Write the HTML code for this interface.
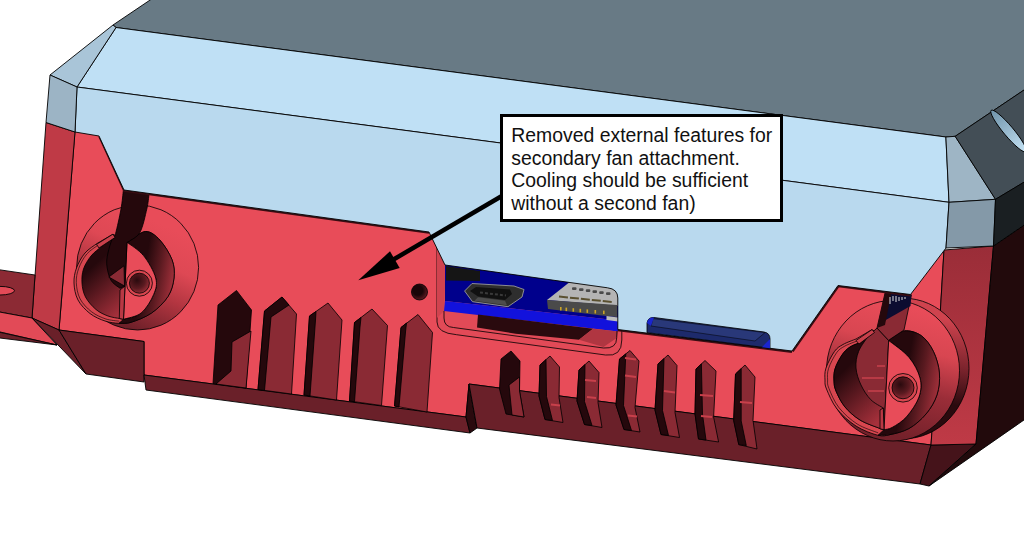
<!DOCTYPE html>
<html><head><meta charset="utf-8"><title>Annotation</title>
<style>
html,body{margin:0;padding:0;background:#fff;}
body{width:1024px;height:539px;overflow:hidden;position:relative;font-family:"Liberation Sans",sans-serif;}
svg{position:absolute;left:0;top:0;display:block;}
#note{position:absolute;left:500px;top:113.7px;width:277px;height:102.3px;border:3px solid #000;background:#fff;box-sizing:content-box;}
#note p{margin:0;position:absolute;left:8.3px;top:7.4px;font-size:19.4px;line-height:22.7px;color:#111;white-space:nowrap;}
</style></head><body>
<svg width="1024" height="539" viewBox="0 0 1024 539">
<defs>
<linearGradient id="gRF" x1="0" y1="0" x2="0" y2="1"><stop offset="0" stop-color="#9a2d38"/><stop offset="1" stop-color="#bf3a46"/></linearGradient>
<linearGradient id="gEll" x1="0" y1="0" x2="1" y2="0"><stop offset="0" stop-color="#6f93aa"/><stop offset="1" stop-color="#c4e2f4"/></linearGradient>
<linearGradient id="gBL" gradientUnits="userSpaceOnUse" x1="185" y1="235" x2="140" y2="332"><stop offset="0" stop-color="#e84c59"/><stop offset="0.33" stop-color="#de4854"/><stop offset="0.62" stop-color="#b23540"/><stop offset="1" stop-color="#6e2029"/></linearGradient>
<linearGradient id="gML" gradientUnits="userSpaceOnUse" x1="100" y1="230" x2="150" y2="290"><stop offset="0.25" stop-color="#e84c59" stop-opacity="1"/><stop offset="0.85" stop-color="#e84c59" stop-opacity="0"/></linearGradient>
<linearGradient id="gBR" gradientUnits="userSpaceOnUse" x1="950" y1="318" x2="918" y2="442"><stop offset="0" stop-color="#e84c59"/><stop offset="0.3" stop-color="#d84651"/><stop offset="0.62" stop-color="#9a2d38"/><stop offset="1" stop-color="#74212a"/></linearGradient>
<linearGradient id="gMR" gradientUnits="userSpaceOnUse" x1="852" y1="330" x2="910" y2="398"><stop offset="0.25" stop-color="#e84c59" stop-opacity="1"/><stop offset="0.85" stop-color="#e84c59" stop-opacity="0"/></linearGradient>
<linearGradient id="gSide" gradientUnits="userSpaceOnUse" x1="955" y1="320" x2="940" y2="440"><stop offset="0" stop-color="#cf434e"/><stop offset="0.4" stop-color="#7a232c"/><stop offset="0.7" stop-color="#2a0a0e"/></linearGradient>
<linearGradient id="gIn" x1="0.2" y1="0" x2="0.7" y2="1"><stop offset="0.3" stop-color="#25080c"/><stop offset="1" stop-color="#a5303b"/></linearGradient>
<linearGradient id="gBand" x1="0" y1="0.3" x2="1" y2="0.6"><stop offset="0.45" stop-color="#25080c"/><stop offset="0.7" stop-color="#5a1a20"/><stop offset="1" stop-color="#a8323d"/></linearGradient>
<radialGradient id="gHole" cx="0.4" cy="0.4" r="0.75"><stop offset="0.4" stop-color="#1a0508"/><stop offset="1" stop-color="#7a232c"/></radialGradient>
<radialGradient id="gSm" cx="0.38" cy="0.35" r="0.75"><stop offset="0" stop-color="#2a0a0e"/><stop offset="0.55" stop-color="#5a1a20"/><stop offset="1" stop-color="#a8323d"/></radialGradient>
</defs>
<g id="base" stroke="#000" stroke-width="0.9" stroke-linejoin="round">
<polygon points="75,131 64,270 59,330 144,341.5 144,375 466,417 469,384 931,445 940,317 944,250 944,120 75,120" fill="#e84c59" />
<polygon points="46,122.5 75,132 59,330 32,318" fill="#bf3a46" />
<polygon points="-6,269 35,275 32,318 -6,311" fill="#8c2a34" />
<ellipse cx="0" cy="290.7" rx="14.5" ry="4.3" fill="#e24a57"/>
<polygon points="-6,311 32,318 57,345 -6,330.6" fill="#e24a57" />
<polygon points="-6,331 57,345 -6,337.3" fill="#6b2029" />
<polygon points="32,318 59,330 86,374" fill="#6a2029" />
<polygon points="59,330 144,341.5 144,382 86,374" fill="#6a2029" />
<polygon points="144,375 466,417 470,433 146,390" fill="#6a2029" />
<polygon points="469,384 466,417 470,433 477,428" fill="#2a0a0e" />
<polygon points="469,384 931,445 920,484 477,428" fill="#6a2029" />
<polygon points="931,445 976,444 929,486 920,484" fill="#45131a" />
<polygon points="944,250 993.5,246 976,444 931,445 940,317" fill="url(#gRF)" />
<polygon points="993.5,246 1030,221 1030,415.8 929,486 976,444" fill="#220a0c" />
</g>
<g id="slots" stroke="#000" stroke-width="0.8" stroke-linejoin="round">
<polygon points="218,305 236.5,290.5 251.5,310 246,388 213,383.5" fill="#25080c" />
<polygon points="232,342 251,331 246,388 216,384 231,371" fill="#8a2a34" />
<polygon points="264.5,311 282,297 296.5,314 291.5,394 258,389.5" fill="#8a2a34" />
<polygon points="264.5,311 282,297 289,305 271,317 264.5,390.5 258,389.5" fill="#25080c" />
<polygon points="309.5,316 328,303 342,320 336.5,400 304,395" fill="#8a2a34" />
<polygon points="309.5,316 316,311.5 315.5,320 310,396 304,395" fill="#25080c" />
<polygon points="354.5,322.5 372,309 387.5,325.5 381.5,405.5 349.5,401" fill="#8a2a34" />
<polygon points="354.5,322.5 361,317.5 360,327 354.5,401.7 349.5,401" fill="#25080c" />
<polygon points="401,327.5 418,314.5 432.5,332.5 427,412 394.5,406" fill="#8a2a34" />
<polygon points="401,327.5 406.5,323 405.5,332 399,407 394.5,406" fill="#25080c" />
<polygon points="501,359 511,351 520,361 519.5,391 524,417 506,414 499.5,389" fill="#25080c" />
<polygon points="509,385 519.5,377 519.5,391 524,417 512,415" fill="#8a2a34" />
<polygon points="540,365 550,356 559.5,367 559,397.5 563,422.5 545,419.5 539,396" fill="#8a2a34" />
<polygon points="540,365 546,359.6 546.5,396.5 552.5,420.5 545,419.5 539,396" fill="#25080c" />
<polygon points="579,370 589,361 599,372.5 598,402.5 602,427.5 584.5,424.5 577,401" fill="#8a2a34" />
<polygon points="579,370 585,364.6 584.5,401.5 592,425.5 584.5,424.5 577,401" fill="#25080c" />
<polygon points="619.5,359 630,350.5 639,361 635,407.5 640,432 624,429.5 616,405" fill="#8a2a34" />
<polygon points="619.5,359 625.8,353.9 623.5,405.5 631.5,430.5 624,429.5 616,405" fill="#25080c" />
<polygon points="658,364 668,355 677,365.5 675,412.5 679.5,437.5 661,434.5 655,410" fill="#8a2a34" />
<polygon points="658,364 664,358.6 662.5,410.5 668.5,435.5 661,434.5 655,410" fill="#25080c" />
<polygon points="696,369 705,360.5 716,371 713.6,417 718.6,442 698.5,439 695,413.7" fill="#8a2a34" />
<polygon points="696,369 701.4,363.9 702.5,414.2 706,440 698.5,439 695,413.7" fill="#25080c" />
<polygon points="735.5,374 745,365 755,377 753,420.4 757,449 738.8,444.6 733.7,420.4" fill="#8a2a34" />
<polygon points="735.5,374 741.2,368.6 741.2,420.9 746.3,445.6 738.8,444.6 733.7,420.4" fill="#25080c" />
<g stroke="#c8404b" stroke-width="2.2" fill="none"><path d="M585,380L596,381M587,397L596,398M625,358L636,359.5M625,375.5L636,377M628,415.5L637,416.5M664,391L675,392.5M551,404.5L560,405.5M700,395L713,396M701,416L712,417M740,402L752,403"/></g>
<circle cx="419.5" cy="292" r="8" fill="url(#gHole)"/>
</g>
<g id="mountL" stroke="#000" stroke-width="0.8" stroke-linejoin="round">
<ellipse cx="137.6" cy="267.5" rx="61" ry="62.5" fill="url(#gBL)"/>
<path d="M97,243.5 C95.0,245.1 88.4,248.9 85.0,253.0 C81.6,257.1 78.3,263.0 76.5,268.0 C74.7,273.0 73.8,277.7 74.0,283.0 C74.2,288.3 75.3,294.9 78.0,300.0 C80.7,305.1 85.5,310.0 90.0,313.5 C94.5,317.0 100.2,319.4 105.0,321.0 C109.8,322.6 114.7,323.1 119.0,323.3 C123.3,323.5 125.6,324.0 131.0,322.3 C136.4,320.6 145.4,317.3 151.6,313.0 C157.8,308.7 164.3,302.3 168.0,296.5 C171.7,290.7 173.3,284.1 174.0,278.0 C174.7,271.9 174.4,266.0 172.0,259.7 C169.6,253.4 164.2,244.7 159.8,240.0 C155.4,235.3 150.6,231.3 145.5,231.5 C140.4,231.7 131.8,239.7 129.0,241.3 L127,242.3 L113,234.2 Z" fill="#d8464f"/>
<path d="M98.26,244.963 C96.4,246.5 90.1,250.1 86.8,254.0 C83.5,257.9 80.4,263.6 78.7,268.4 C76.9,273.1 76.1,277.6 76.3,282.7 C76.5,287.8 77.6,294.1 80.1,298.9 C82.7,303.8 87.3,308.5 91.6,311.8 C95.9,315.2 101.3,317.4 105.9,319.0 C110.5,320.5 117.0,320.8 119.3,321.2 " fill="none" stroke-width="0.6"/>
<path d="M101,247 C99.3,248.5 93.9,252.3 91.0,256.0 C88.1,259.7 85.0,264.5 83.5,269.0 C82.0,273.5 81.7,278.3 82.0,283.0 C82.3,287.7 83.2,292.6 85.5,297.0 C87.8,301.4 92.2,306.3 96.0,309.5 C99.8,312.7 104.1,314.5 108.0,316.0 C111.9,317.5 117.6,318.1 119.5,318.5 L123.5,319.3 L127,242.3 L113,237 Z" fill="url(#gIn)"/>
<path d="M119,323.3 C121.0,323.1 125.6,324.0 131.0,322.3 C136.4,320.6 145.4,317.3 151.6,313.0 C157.8,308.7 164.3,302.3 168.0,296.5 C171.7,290.7 173.3,284.1 174.0,278.0 C174.7,271.9 174.4,266.0 172.0,259.7 C169.6,253.4 164.2,244.7 159.8,240.0 C155.4,235.3 150.6,231.3 145.5,231.5 C140.4,231.7 131.8,239.7 129.0,241.3 L127,242.3 C129.8,244.5 138.7,249.7 143.5,255.6 C148.3,261.6 154.0,271.5 155.7,278.0 C157.4,284.5 156.1,288.6 153.7,294.4 C151.3,300.2 146.4,308.6 141.4,312.8 C136.4,317.0 126.5,318.2 123.5,319.3 L119,323.3 Z" fill="url(#gBand)"/>
<path d="M127,242.3 C129.8,244.5 138.7,249.7 143.5,255.6 C148.3,261.6 154.0,271.5 155.7,278.0 C157.4,284.5 156.1,288.6 153.7,294.4 C151.3,300.2 146.4,308.6 141.4,312.8 C136.4,317.0 126.5,318.2 123.5,319.3 Z" fill="#e84c59"/>
<polygon points="120,290 125,286 123.5,319.3 119.3,318.5" fill="#b93844" />
<circle cx="139.4" cy="283.2" r="13" fill="#d8464f"/>
<circle cx="139.4" cy="283.2" r="10" fill="url(#gSm)"/>
<path d="M149,194.5 C148.6,196.9 148.3,202.7 146.8,209.0 C145.3,215.3 143.0,226.9 140.0,232.3 C137.0,237.7 130.8,239.8 129.0,241.3 L127,242.3 L125,286 L120,288.3 C118.5,286.9 113.0,284.1 110.8,280.0 C108.6,275.9 107.0,268.9 106.7,263.8 C106.4,258.7 107.8,254.0 108.8,249.5 C109.8,245.0 111.9,239.7 113.0,237.0 C114.1,234.3 114.3,238.2 115.6,233.5 C116.9,228.8 119.7,216.2 121.0,209.0 C122.3,201.8 123.0,193.2 123.4,190.0 Z" fill="#25080c"/>
<polygon points="108.8,277 124,265.8 124.5,286" fill="#8a2a34" />
<polygon points="96.5,244.4 112.9,234.2 115,237.5 99,248" fill="#c8404b" />
</g>
<g id="mountR" stroke="#000" stroke-width="0.8" stroke-linejoin="round">
<ellipse cx="903.5" cy="368.5" rx="65.5" ry="70.3" fill="url(#gSide)"/>
<ellipse cx="893" cy="370.7" rx="66.5" ry="70.3" fill="url(#gBR)"/>
<path d="M856,339 C853.8,339.9 846.6,342.4 843.0,344.5 C839.4,346.6 837.3,347.5 834.5,351.4 C831.7,355.3 827.6,363.2 826.0,368.0 C824.4,372.8 824.9,376.5 825.0,380.0 C825.1,383.5 824.5,384.2 826.5,389.0 C828.5,393.8 832.1,402.8 837.0,409.0 C841.9,415.2 849.2,421.6 856.0,426.0 C862.8,430.4 872.3,433.9 878.0,435.3 C883.7,436.7 884.8,435.7 890.0,434.6 C895.2,433.5 903.0,431.9 909.0,428.5 C915.0,425.1 921.3,419.6 926.0,414.0 C930.7,408.4 934.8,401.6 937.0,394.8 C939.2,388.0 940.0,380.2 939.4,373.0 C938.8,365.8 936.4,357.6 933.4,351.4 C930.4,345.2 926.1,339.1 921.3,335.7 C916.5,332.3 909.6,330.3 904.4,330.9 C899.2,331.5 892.4,337.9 890.0,339.3 L888.7,340.5 L872,329.6 Z" fill="#d8464f"/>
<path d="M857.17,340.89 C855.1,341.8 848.2,344.2 844.8,346.1 C841.3,348.1 839.3,349.0 836.6,352.7 C833.9,356.5 830.0,364.0 828.5,368.6 C827.0,373.1 827.5,376.7 827.6,380.0 C827.6,383.4 827.1,384.0 829.0,388.6 C830.9,393.3 834.3,401.9 839.0,407.7 C843.7,413.6 850.6,419.8 857.2,424.0 C863.7,428.2 874.7,431.4 878.2,432.9 " fill="none" stroke-width="0.6"/>
<path d="M862,342 C860.0,342.8 853.3,344.8 850.0,347.0 C846.7,349.2 844.5,351.3 842.0,355.0 C839.5,358.7 836.3,364.7 835.0,369.0 C833.7,373.3 833.8,377.3 834.0,381.0 C834.2,384.7 834.2,386.7 836.0,391.0 C837.8,395.3 841.0,402.2 845.0,407.0 C849.0,411.8 854.2,416.4 860.0,420.0 C865.8,423.6 876.7,427.1 880.0,428.5 L884,429.7 L888.7,340.5 L877,328 Z" fill="#8a2a34"/>
<path d="M862,342 C860.0,342.8 853.3,344.8 850.0,347.0 C846.7,349.2 844.5,351.3 842.0,355.0 C839.5,358.7 836.3,364.7 835.0,369.0 C833.7,373.3 833.8,377.3 834.0,381.0 C834.2,384.7 834.2,386.7 836.0,391.0 C837.8,395.3 841.0,402.2 845.0,407.0 C849.0,411.8 854.2,416.4 860.0,420.0 C865.8,423.6 876.7,427.1 880.0,428.5 L884,429.7 L883.3,408 C881.2,406.6 874.4,403.4 870.7,399.6 C867.0,395.8 863.5,390.3 861.0,385.0 C858.5,379.7 856.4,373.6 856.0,368.0 C855.6,362.4 856.4,357.0 858.6,351.4 C860.8,345.8 867.6,337.3 869.4,334.5 Z" fill="url(#gIn)"/>
<path d="M878,435.3 C880.0,435.2 884.8,435.7 890.0,434.6 C895.2,433.5 903.0,431.9 909.0,428.5 C915.0,425.1 921.3,419.6 926.0,414.0 C930.7,408.4 934.8,401.6 937.0,394.8 C939.2,388.0 940.0,380.2 939.4,373.0 C938.8,365.8 936.4,357.6 933.4,351.4 C930.4,345.2 926.1,339.1 921.3,335.7 C916.5,332.3 909.6,330.3 904.4,330.9 C899.2,331.5 892.4,337.9 890.0,339.3 L888.7,340.5 C892.1,343.3 903.8,351.1 909.0,357.4 C914.2,363.6 918.3,371.4 920.0,378.0 C921.7,384.6 921.2,390.6 919.0,397.0 C916.8,403.4 911.2,411.4 906.8,416.5 C902.4,421.6 896.2,425.1 892.4,427.3 C888.6,429.5 885.4,429.3 884.0,429.7 L878,435.3 Z" fill="url(#gBand)"/>
<path d="M888.7,340.5 C892.1,343.3 903.8,351.1 909.0,357.4 C914.2,363.6 918.3,371.4 920.0,378.0 C921.7,384.6 921.2,390.6 919.0,397.0 C916.8,403.4 911.2,411.4 906.8,416.5 C902.4,421.6 896.2,425.1 892.4,427.3 C888.6,429.5 885.4,429.3 884.0,429.7 Z" fill="#e84c59"/>
<polygon points="880,410 883.3,408 884,429.7 880,428.8" fill="#b93844" />
<circle cx="903" cy="387.8" r="14.3" fill="#d8464f"/>
<circle cx="903" cy="387.8" r="11" fill="url(#gSm)"/>
<polygon points="885.5,291 911.4,294.8 904,330 890,339.3 888.7,340.5 877,328" fill="#8a2a34" />
<polygon points="885.5,291 911.4,294.8 910.5,306 884,321" fill="#0c0c30" stroke="none"/>
<polygon points="885.5,291 891.5,292 885,325 877,328" fill="#25080c" stroke="none"/>
<g stroke="#ddd" stroke-width="1" fill="none"><path d="M890,297v7M893,296v5M896,296v6M899,297v4M902,297v3M905,297v2"/></g>
<g stroke="#c8404b" stroke-width="1.4" fill="none"><path d="M862,378h22M868,391h16M877,366h8"/></g>
<polygon points="856,340.5 872,329.6 874.5,332.5 859,344" fill="#c8404b" />
</g>
<g id="window" stroke="#000" stroke-width="0.8" stroke-linejoin="round">
<path d="M437,240 L437,322 Q437,333 456.5,334.7 L605.5,355 Q621.8,357 621.8,340 L621.8,280 Z" fill="#e24a57"/>
<polygon points="437,240 446,262 444,311 437,318" fill="#d0434f" stroke="none"/>
<polygon points="445,262 620,285 618,320.5 445,301" fill="#00008c" stroke="none"/>
<polygon points="445,301 618,320.5 618,331.6 444,311" fill="#1212dc" stroke="none"/>
<polygon points="478,314.5 593,328.8 579,339.8 515.7,333.7 477,327.5" fill="#2a0a0e" stroke="none"/>
<polygon points="593,328.8 618,331.6 616.7,338 603.5,347 579,339.8" fill="#b03641" stroke="none"/>
<path d="M444,311 L444,318 Q444,327 453.5,327.5 L603.5,348 Q616.7,349 616.7,337.8 L617,331" fill="none"/>
<polygon points="446,266 480,271 480,281 446,280.6" fill="#151515" stroke="none"/>
<polygon points="464.6,291 472,283.5 514,286 524,289.5 522,297 508,306.7 472.5,301.7" fill="#2e2e2e" stroke="#9a9a9a" stroke-width="0.9"/>
<polygon points="470,291 476,287 510,289.5 512,294 505,300 478,296.5" fill="#111" stroke="none"/>
<polygon points="478,297.3 505,300.8 507,305.3 474.5,300.8" fill="#4d4d4d" stroke="none"/>
<polygon points="571,281 620,288 620,306 547,300" fill="#b4b4b4" stroke="none"/>
<polygon points="547,300 617,305 617,317 606,316 548,309" fill="#4a4a4a" stroke="none"/>
<polygon points="606.5,316 618,317.5 618,321.5 606.5,320" fill="#bdbdbd" stroke="none"/>
<g fill="#4a4a4a" stroke="none"><rect x="572" y="287.3" width="4.5" height="2.6" rx="1"/><rect x="579" y="288.3" width="4.5" height="2.6" rx="1"/><rect x="585.8" y="289.3" width="4.5" height="2.6" rx="1"/><rect x="592.5" y="290.3" width="4.5" height="2.6" rx="1"/><rect x="599.2" y="291.3" width="4.5" height="2.6" rx="1"/><rect x="606" y="292.3" width="4.5" height="2.6" rx="1"/></g>
<path d="M559,296.5 L612,302" stroke="#5a5030" stroke-width="2" fill="none" stroke-dasharray="9 2"/>
<g fill="#c9a227" stroke="none"><rect x="560" y="307" width="1.6" height="3.5"/><rect x="565.5" y="307.6" width="1.6" height="3.5"/><rect x="572.5" y="308.2" width="1.6" height="3.5"/><rect x="579.5" y="308.8" width="1.6" height="3.5"/><rect x="586.5" y="309.4" width="1.6" height="3.5"/><rect x="594.5" y="310" width="1.6" height="3.5"/><rect x="603" y="310.6" width="1.6" height="3.5"/></g>
<path d="M480,292.5 L506,295.5" stroke="#3a3a3a" stroke-width="2" fill="none" stroke-dasharray="3 2"/>
</g>
<g id="lidshadow" stroke="#3a0c12" stroke-width="2.4" fill="none"><path d="M99.5,136.5 L124.3,190.6 L429,232.6 M617.8,330 L792,351.8 M792.6,351.4 L838.4,286 L910.5,295.2"/></g>
<g id="lid" stroke="#000" stroke-width="0.9" stroke-linejoin="round">
<polygon points="159,-6 1030,-6 1030,86 955.2,136.3 945.9,137 116,27.5 113,25" fill="#687a85"/>
<polygon points="116,27.5 945.9,137 949,202.3 77,87" fill="#bfe0f5"/>
<path d="M77,87 L949,202.3 L946,248 L910.5,294.5 L838,285.5 L792,351 L617.8,329.5 L617.8,298 Q617.8,289 607.5,287.8 L445,265 L429,232 L124,190 L99,136 L75,132 Z" fill="#b9d9ee"/>
<polygon points="113,25 116,27.5 77,87 50,75" fill="#a9c5d8"/>
<polygon points="50,75 77,87 75,132 46,122.5" fill="#9cb4c5"/>
<polygon points="945.9,137 955.2,136.3 995.5,199.3 949,202.3" fill="#9eb5c5"/>
<polygon points="949,202.3 995.5,199.3 993.5,246 946,248" fill="#8499a8"/>
<polygon points="955.2,136.3 1030,86 1030,178.6 995.5,199.3" fill="#434e56"/>
<polygon points="995.5,199.3 1030,178.6 1030,221 993.5,246" fill="#1a1f22"/>
<ellipse cx="1008.5" cy="131" rx="27" ry="5" transform="rotate(50 1008.5 131)" fill="url(#gEll)"/>
</g>
<g id="navy" stroke="#000" stroke-width="0.8" stroke-linejoin="round">
<path d="M647,332.6 L647,323 Q648,317 654,317.5 L764,332 Q770,333 770,339 L770,348.2 Z" fill="#1d2a6b"/>
<path d="M651,326 L653,318.6 L765,332.6 L755,341 Z" fill="#293879" stroke-width="0.5"/>
<path d="M647,323 Q648,317 654,317.5 L651,326 Z" fill="#1a25d0" stroke="none"/>
<path d="M765,344 L770,339 L770,348.2 L762,347.2 Z" fill="#1a25d0" stroke="none"/>
</g>
<g id="arrow">
<line x1="501" y1="196.5" x2="393" y2="259.8" stroke="#000" stroke-width="4.5"/>
<polygon points="358.3,280.2 390,251.3 399.7,268" fill="#000"/>
</g>
</svg>
<div id="note"><p>Removed external features for<br>secondary fan attachment.<br>Cooling should be sufficient<br>without a second fan)</p></div>
</body></html>
